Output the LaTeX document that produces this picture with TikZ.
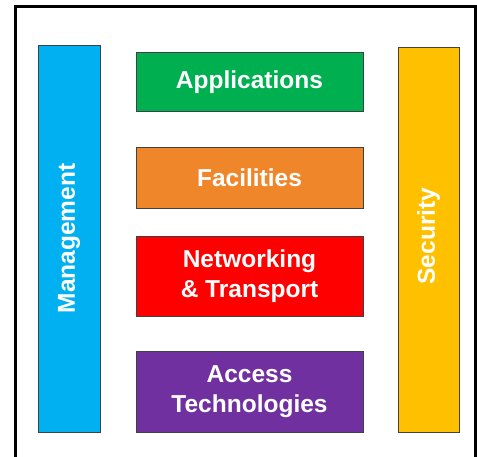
\documentclass[tikz,border=0pt]{standalone}
\usepackage{fontspec}
\setmainfont{Liberation Sans}
\begin{document}
\begin{tikzpicture}[x=1pt,y=-1pt,
  blk/.style={draw=black!75, line width=0.9pt, inner sep=0pt, font=\fontsize{24.5}{30}\selectfont\bfseries, text=white, align=center},
  frame/.style={draw=black, line width=3pt}]
\useasboundingbox (0,0) rectangle (477,456);
\definecolor{mgmt}{HTML}{00B0F0}
\definecolor{appl}{HTML}{00B050}
\definecolor{faci}{HTML}{F0862A}
\definecolor{netw}{HTML}{FF0000}
\definecolor{acce}{HTML}{7030A0}
\definecolor{secu}{HTML}{FFC000}
\draw[frame] (15.5,470) -- (15.5,6.5) -- (475.5,6.5) -- (475.5,470);
\node[blk, fill=mgmt, minimum width=62pt, minimum height=387pt] (mgmt) at (69,238.5) {};
\node[font=\fontsize{24.5}{30}\selectfont\bfseries, text=white, rotate=90] (mgmtt) at (mgmt.center) {Management};
\node[blk, fill=secu, minimum width=61pt, minimum height=385pt] (secu) at (428.5,239.5) {};
\node[font=\fontsize{24.5}{30}\selectfont\bfseries, text=white, rotate=90] (secut) at (428.5,236) {Security};
\node[blk, fill=appl, minimum width=227pt, minimum height=59.5pt] (appl) at (249.5,81.7) {Applications};
\node[blk, fill=faci, minimum width=227pt, minimum height=61pt] (faci) at (249.5,177.5) {Facilities};
\node[blk, fill=netw, minimum width=227pt, minimum height=80pt] (netw) at (249.5,276) {Networking\\\& Transport};
\node[blk, fill=acce, minimum width=227pt, minimum height=81pt] (acce) at (249.5,391.5) {Access\\Technologies};
\end{tikzpicture}
\end{document}
